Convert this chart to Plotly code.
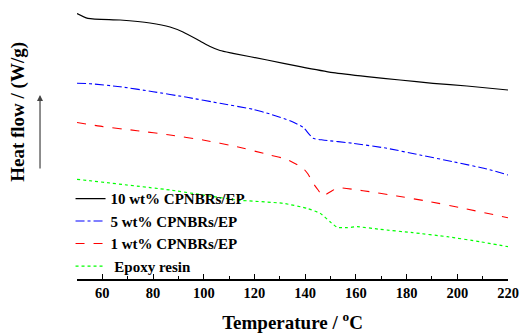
import plotly.graph_objects as go

# Temperature (°C) and heat flow (arbitrary W/g units, offset curves)
t_10 = [50, 54.3, 67, 78.8, 86.7, 91.8, 98.5, 102.5, 106.4, 111.5, 125, 138, 151, 164.4, 177.4, 190.4, 203.8, 220]
hf_10 = [2.655, 2.607, 2.59, 2.56, 2.52, 2.47, 2.38, 2.325, 2.285, 2.257, 2.19, 2.123, 2.063, 2.023, 1.99, 1.957, 1.93, 1.89]

t_5 = [50, 55.1, 67, 80, 93.4, 106.4, 119.4, 126.1, 134, 139.2, 143.1, 147, 158.9, 172.3, 185.3, 198.3, 211.7, 220]
hf_5 = [1.957, 1.953, 1.923, 1.873, 1.817, 1.757, 1.697, 1.65, 1.583, 1.517, 1.407, 1.39, 1.357, 1.307, 1.24, 1.173, 1.10, 1.04]

t_1 = [50, 60.3, 73.7, 86.7, 99.7, 113.1, 126.1, 132.8, 139.2, 141.1, 143.1, 145.1, 147, 150.6, 153, 162.8, 176.2, 189.3, 202.3, 220]
hf_1 = [1.565, 1.523, 1.483, 1.44, 1.39, 1.323, 1.24, 1.197, 1.107, 1.05, 0.96, 0.89, 0.83, 0.883, 0.913, 0.883, 0.83, 0.773, 0.707, 0.613]

t_ep = [50, 86.7, 113.1, 131.3, 140.7, 145.9, 149.8, 152.6, 156.5, 160.5, 169.5, 182.5, 196, 209, 220]
hf_ep = [0.997, 0.89, 0.79, 0.757, 0.707, 0.657, 0.573, 0.517, 0.513, 0.523, 0.497, 0.463, 0.423, 0.373, 0.323]

x_ticks = [60, 80, 100, 120, 140, 160, 180, 200, 220]

FONT = "Liberation Serif, Times New Roman, serif"

fig = go.Figure()
fig.add_trace(go.Scatter(x=t_10, y=hf_10, mode="lines", name="<b>10 wt% CPNBRs/EP</b>",
                         line=dict(color="black", width=1.2, shape="spline", smoothing=0.6)))
fig.add_trace(go.Scatter(x=t_5, y=hf_5, mode="lines", name="<b>5 wt% CPNBRs/EP</b>",
                         line=dict(color="#0000FF", width=1.1, dash="dashdot", shape="spline", smoothing=0.4)))
fig.add_trace(go.Scatter(x=t_1, y=hf_1, mode="lines", name="<b>1 wt% CPNBRs/EP</b>",
                         line=dict(color="#FF0000", width=1.1, dash="dash", shape="spline", smoothing=0.4)))
fig.add_trace(go.Scatter(x=t_ep, y=hf_ep, mode="lines", name="<b> Epoxy resin</b>",
                         line=dict(color="#00FF00", width=1.2, dash="dot", shape="spline", smoothing=0.4)))

fig.update_layout(
    template="none",
    width=520, height=333,
    margin=dict(l=77, r=12, t=5, b=54, autoexpand=False),
    paper_bgcolor="white", plot_bgcolor="white",
    font=dict(family=FONT, color="black"),
    showlegend=True,
    legend=dict(x=-0.015, y=-0.012, xanchor="left", yanchor="bottom",
                bgcolor="rgba(0,0,0,0)", font=dict(size=15, family=FONT, color="black"),
                tracegroupgap=0, itemwidth=30),
    xaxis=dict(range=[50, 220], tickvals=x_ticks, ticktext=[f"<b>{v}</b>" for v in x_ticks],
               ticks="inside", ticklen=5, tickwidth=1.2, tickcolor="black",
               showline=True, linecolor="black", linewidth=1.5, showgrid=False, zeroline=False,
               automargin=False,
               tickfont=dict(size=14.5, family=FONT, color="black"),
               minor=dict(dtick=10, tick0=50, ticks="inside", ticklen=3, tickwidth=1, tickcolor="black", showgrid=False),
               title=dict(text="<b>Temperature / <sup>o</sup>C</b>", font=dict(size=19, family=FONT, color="black"), standoff=19)),
    yaxis=dict(range=[0, 2.74], showline=False, showticklabels=False, ticks="", showgrid=False,
               zeroline=False, automargin=False),
    annotations=[
        dict(text="<b>Heat flow / (W/g)</b>", textangle=-90, xref="paper", yref="paper",
             x=-0.137, y=0.61, xanchor="center", yanchor="middle", showarrow=False,
             font=dict(size=19, family=FONT, color="black")),
        dict(text="", xref="paper", yref="paper", x=-0.0858, y=0.6715, ax=0, ay=75,
             showarrow=True, arrowhead=2, arrowsize=1, arrowwidth=1.2, arrowcolor="#444"),
    ],
)

fig.write_html("out.html", config={"displayModeBar": False},
               post_script="document.body.style.margin='0';document.body.style.overflow='hidden';")
